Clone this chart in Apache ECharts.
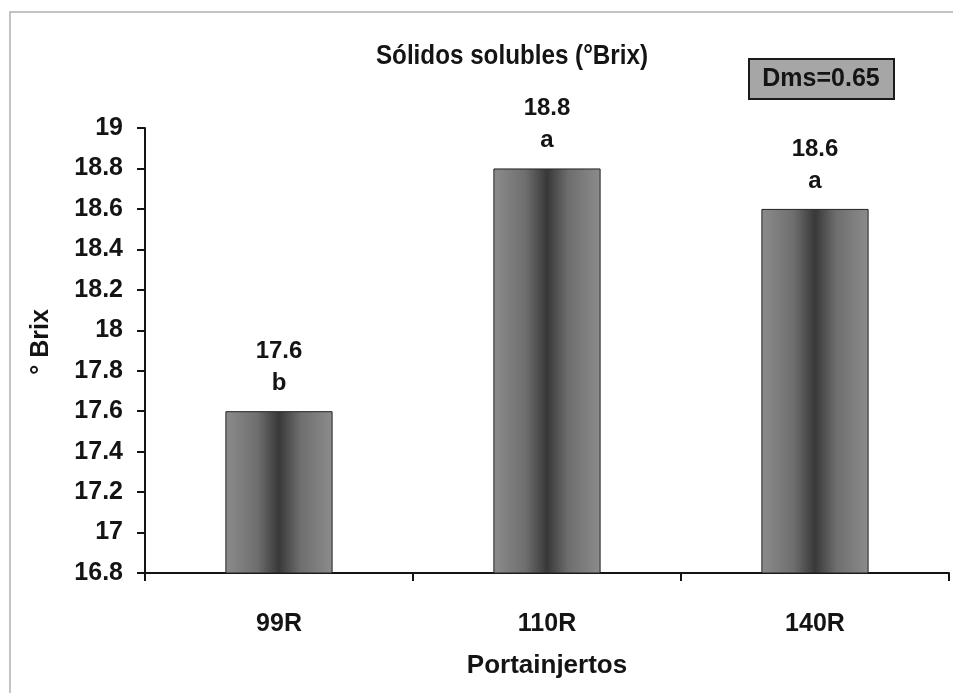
<!DOCTYPE html>
<html>
<head>
<meta charset="utf-8">
<script src="https://cdn.jsdelivr.net/npm/echarts@6/dist/echarts.min.js"></script>
<style>
  html, body { margin: 0; padding: 0; background: #ffffff; }
  #chart { width: 953px; height: 693px; }
</style>
</head>
<body>
<div id="chart"></div>
<script>
// Rootstocks and their mean soluble solids (°Brix)
const categories = ['99R', '110R', '140R'];
const brixValues = [17.6, 18.8, 18.6];
const significance = ['b', 'a', 'a'];
const yTicks = { min: 16.8, max: 19, step: 0.2 };
const titleText = 'Sólidos solubles (°Brix)';
const yAxisTitle = '° Brix';
const xAxisTitle = 'Portainjertos';
const dmsText = 'Dms=0.65';

const sans = '"Liberation Sans", Arial, Helvetica, sans-serif';
const ink = '#141414';

const chart = echarts.init(document.getElementById('chart'));

// cylinder-like shading across each bar
const barFill = new echarts.graphic.LinearGradient(0, 0, 1, 0, [
  { offset: 0, color: '#8c8c8c' },
  { offset: 0.3, color: '#6e6e6e' },
  { offset: 0.5, color: '#383838' },
  { offset: 0.7, color: '#6e6e6e' },
  { offset: 1, color: '#8c8c8c' }
]);

chart.setOption({
  backgroundColor: '#ffffff',
  animation: false,
  graphic: [
    // page frame
    {
      type: 'rect',
      x: 10, y: 12,
      shape: { width: 960, height: 700 },
      style: { fill: 'none', stroke: '#b0b0b0', lineWidth: 1.5 },
      silent: true
    },
    // condensed bold title
    {
      type: 'text',
      x: 512, y: 56,
      scaleX: 0.865,
      style: {
        text: titleText, fill: ink, font: 'bold 28px ' + sans,
        align: 'center', verticalAlign: 'middle'
      }
    },
    // least significant difference box
    {
      type: 'rect',
      x: 749, y: 59,
      shape: { width: 145, height: 40 },
      style: { fill: '#a6a6a6', stroke: '#1a1a1a', lineWidth: 2 }
    },
    {
      type: 'text',
      x: 821, y: 79,
      style: {
        text: dmsText, fill: ink, font: 'bold 25px ' + sans,
        align: 'center', verticalAlign: 'middle'
      }
    },
    // y-axis title
    {
      type: 'text',
      x: 41, y: 342,
      rotation: Math.PI / 2,
      style: {
        text: yAxisTitle, fill: ink, font: 'bold 25px ' + sans,
        align: 'center', verticalAlign: 'middle'
      }
    }
  ],
  grid: { left: 145, right: 4, top: 128, bottom: 120, containLabel: false },
  xAxis: {
    type: 'category',
    data: categories,
    boundaryGap: true,
    name: xAxisTitle,
    nameLocation: 'middle',
    nameGap: 80,
    nameTextStyle: { fontFamily: sans, fontWeight: 'bold', fontSize: 26, color: ink },
    axisLine: { lineStyle: { color: ink, width: 2 } },
    axisTick: { show: true, alignWithLabel: false, length: 8, lineStyle: { color: ink, width: 2 } },
    axisLabel: { margin: 39, fontFamily: sans, fontWeight: 'bold', fontSize: 25, color: ink }
  },
  yAxis: {
    type: 'value',
    min: yTicks.min,
    max: yTicks.max,
    interval: yTicks.step,
    axisLine: { show: true, lineStyle: { color: ink, width: 2 } },
    axisTick: { show: true, inside: false, length: 8, lineStyle: { color: ink, width: 2 } },
    splitLine: { show: false },
    axisLabel: {
      margin: 22, fontFamily: sans, fontWeight: 'bold', fontSize: 25, color: ink,
      formatter: v => String(Math.round(v * 10) / 10)
    }
  },
  series: [
    {
      type: 'bar',
      data: brixValues,
      barWidth: '40%',
      itemStyle: { color: barFill, borderColor: '#222', borderWidth: 1 },
      label: {
        show: true,
        position: 'top',
        distance: 12,
        fontFamily: sans,
        fontWeight: 'bold',
        fontSize: 24,
        lineHeight: 32,
        color: ink,
        formatter: p => p.value.toFixed(1) + '\n' + significance[p.dataIndex]
      }
    }
  ]
});
</script>
</body>
</html>
